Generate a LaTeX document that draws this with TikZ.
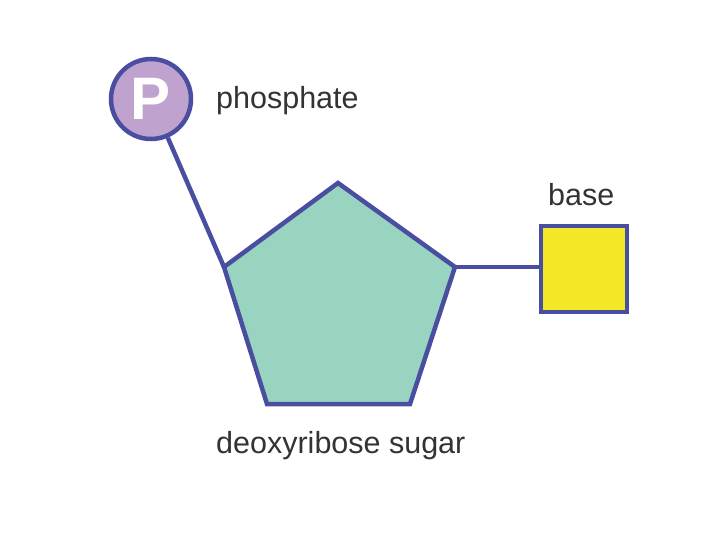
\documentclass[tikz,border=0pt]{standalone}
\usepackage{fontspec}
\setmainfont{Liberation Sans}
\definecolor{strokeC}{HTML}{4A4EA0}
\definecolor{circC}{HTML}{C0A2CF}
\definecolor{pentC}{HTML}{98D4C0}
\definecolor{sqC}{HTML}{F4E826}
\definecolor{txtC}{HTML}{333333}
\begin{document}
\begin{tikzpicture}[x=1pt,y=-1pt,
  outline/.style={draw=strokeC,line width=4.5pt,line join=miter},
  conn/.style={draw=strokeC,line width=4.5pt},
  lbl/.style={font=\fontsize{30.5}{34}\selectfont,text=txtC,anchor=base west,inner sep=0pt}]
\useasboundingbox (0,0) rectangle (720,540);
% pentagon vertices
\coordinate (pt) at (338,183);
\coordinate (pr) at (455,267);
\coordinate (pbr) at (410,404);
\coordinate (pbl) at (267,404);
\coordinate (pl) at (224,267);
\node[circle,outline,fill=circC,minimum size=80pt,inner sep=0pt,
  font=\fontsize{60}{62}\selectfont\bfseries,text=white] (P) at (151,99) {P};
\draw[conn] (P) -- (pl);
\node[rectangle,outline,fill=sqC,minimum size=86pt,inner sep=0pt] (base) at (584,269) {};
\draw[conn] (pr) -- (pr -| base.west);
\filldraw[outline,fill=pentC] (pt) -- (pr) -- (pbr) -- (pbl) -- (pl) -- cycle;
\node[lbl] (lp) at (216,109) {phosphate};
\node[lbl] (lb) at (548,206) {base};
\node[lbl] (ls) at (216,453) {deoxyribose sugar};
\end{tikzpicture}
\end{document}
